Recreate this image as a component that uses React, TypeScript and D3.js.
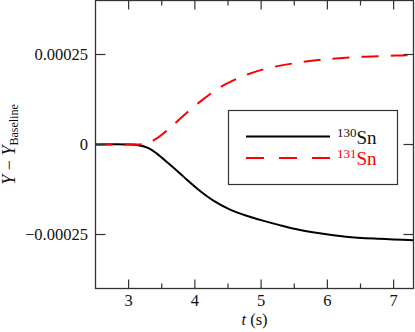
import React from 'react';
import * as d3 from 'd3';

// (y in units of 1e-4)
const t130 = [2.5, 3.0, 3.15, 3.3, 3.43, 3.6, 3.78, 3.88, 4.05, 4.28, 4.5, 4.78, 5.0, 5.28, 5.5, 5.78, 6.28, 6.78, 7.3];
const y130 = [0, 0, -0.02, -0.1, -0.26, -0.52, -0.81, -0.98, -1.25, -1.56, -1.78, -1.98, -2.1, -2.24, -2.34, -2.44, -2.56, -2.62, -2.66];

const t131 = [2.5, 3.0, 3.25, 3.4, 3.58, 3.78, 4.1, 4.48, 4.98, 5.62, 6.28, 7.03, 7.3];
const y131 = [0, 0, 0.02, 0.14, 0.39, 0.72, 1.22, 1.69, 2.06, 2.29, 2.41, 2.47, 2.48];

const xMajor = [3, 4, 5, 6, 7];
const xMinor = [3.5, 4.5, 5.5, 6.5];
const yMajor = [-0.00025, 0, 0.00025];
const yLabels = ['\u22120.00025', '0', '0.00025'];

const series = [
  { iso: '130', t: t130, y: y130, color: '#000', dash: null },
  { iso: '131', t: t131, y: y131, color: '#ff0000', dash: '17,12' },
];

const W = 415;
const H = 332;
const left = 95.5;
const right = 413.5;
const top = 0.5;
const bottom = 288.5;
const serif = { fontFamily: "'Liberation Serif'" };
const axisColor = '#333';

export default function App() {
  const x = d3.scaleLinear().domain([2.5, 7.3]).range([left, right]);
  const y = d3.scaleLinear().domain([-0.0004, 0.0004]).range([bottom, top]);

  const line = d3
    .line<[number, number]>()
    .x(d => x(d[0]))
    .y(d => y(d[1] * 1e-4))
    .curve(d3.curveCatmullRom.alpha(0.5));

  const legX = 228.5;
  const legY = 110.5;

  return (
    <svg width={W} height={H} style={{ position: 'absolute', left: 0, top: 0, background: '#fff' }}>
      <defs>
        <clipPath id="plot">
          <rect x={left} y={top} width={right - left} height={bottom - top} />
        </clipPath>
      </defs>

      <g clipPath="url(#plot)">
        {series.map(s => (
          <path
            key={s.iso}
            d={line(s.t.map((t, i) => [t, s.y[i]] as [number, number])) || ''}
            fill="none"
            stroke={s.color}
            strokeWidth={2}
            strokeDasharray={s.dash || undefined}
          />
        ))}
      </g>

      {/* ticks, inward on all four sides */}
      <g stroke={axisColor} strokeWidth={1.2}>
        {xMajor.map(v => (
          <g key={'xm' + v}>
            <line x1={x(v)} x2={x(v)} y1={bottom} y2={bottom - 9} />
            <line x1={x(v)} x2={x(v)} y1={top} y2={top + 9} />
          </g>
        ))}
        {xMinor.map(v => (
          <g key={'xn' + v}>
            <line x1={x(v)} x2={x(v)} y1={bottom} y2={bottom - 5} />
            <line x1={x(v)} x2={x(v)} y1={top} y2={top + 5} />
          </g>
        ))}
        {yMajor.map(v => (
          <g key={'ym' + v}>
            <line x1={left} x2={left + 10} y1={y(v)} y2={y(v)} />
            <line x1={right} x2={right - 10} y1={y(v)} y2={y(v)} />
          </g>
        ))}
      </g>

      <rect
        x={left}
        y={top}
        width={right - left}
        height={bottom - top}
        fill="none"
        stroke={axisColor}
        strokeWidth={1.3}
      />

      {/* tick labels */}
      <g fontSize={16.5} fill="#111">
        {xMajor.map(v => (
          <text key={'xl' + v} x={x(v)} y={306} textAnchor="middle" style={serif}>
            {v}
          </text>
        ))}
        {yMajor.map((v, i) => (
          <text key={'yl' + v} x={88} y={y(v) + 5} textAnchor="end" style={serif}>
            {yLabels[i]}
          </text>
        ))}
      </g>

      {/* axis titles */}
      <text x={(left + right) / 2} y={325} textAnchor="middle" fontSize={16.5} fill="#111" style={serif}>
        <tspan fontStyle="italic">t</tspan>
        <tspan> (s)</tspan>
      </text>
      <text
        transform={`translate(15,${(top + bottom) / 2}) rotate(-90)`}
        textAnchor="middle"
        fontSize={18}
        fill="#111"
        style={serif}
      >
        <tspan fontStyle="italic">Y</tspan>
        <tspan> {'\u2212'} </tspan>
        <tspan fontStyle="italic">Y</tspan>
        <tspan fontSize={12} dy={3}>Baseline</tspan>
      </text>

      {/* legend */}
      <rect x={legX} y={legY} width={169} height={74} fill="#fff" stroke={axisColor} strokeWidth={1.2} />
      {series.map((s, i) => {
        const ly = 136.5 + i * 21.5;
        return (
          <g key={'lg' + s.iso}>
            <line
              x1={246}
              x2={330}
              y1={ly}
              y2={ly}
              stroke={s.color}
              strokeWidth={2}
              strokeDasharray={s.dash ? '18,15' : undefined}
            />
            <text
              x={337}
              y={ly + 7}
              fill={s.color === '#000' ? '#111' : s.color}
              fontSize={19}
              style={serif}
            >
              <tspan fontSize={13} dy={-7}>{s.iso}</tspan>
              <tspan dy={7}>Sn</tspan>
            </text>
          </g>
        );
      })}
    </svg>
  );
}
